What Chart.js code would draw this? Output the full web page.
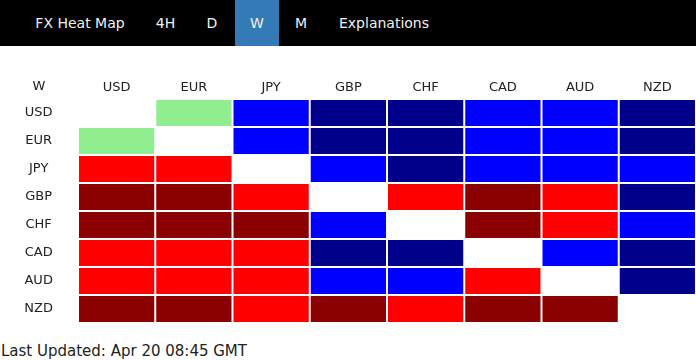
<!DOCTYPE html>
<html>
<head>
<meta charset="utf-8">
<title>FX Heat Map</title>
<script src="https://cdn.jsdelivr.net/npm/chart.js@4.4.1/dist/chart.umd.min.js"></script>
<style>
    html, body { margin: 0; padding: 0; background: #fff; }
    body { width: 696px; height: 360px; position: relative; overflow: hidden;
           font-family: "DejaVu Sans", Verdana, sans-serif; color: #222; }
    #menu { position: absolute; left: 0; top: 0; width: 696px; height: 46px; background: #000; }
    #menu span { position: absolute; top: 0; height: 46px; line-height: 46px;
                 font-size: 14px; color: #f2f2f2; text-align: center; }
    #menu span.active { background: #337ab7; }
    #chart-box { position: absolute; left: 0; top: 46px; width: 696px; height: 277px; }
    #updated { position: absolute; left: 1px; top: 342px; font-size: 15px; line-height: 18px; color: #222; }
</style>
</head>
<body>
<div id="menu">
    <span style="left:20px;width:120px">FX Heat Map</span>
    <span style="left:140px;width:51px">4H</span>
    <span style="left:191px;width:42px">D</span>
    <span class="active" style="left:235px;width:44px">W</span>
    <span style="left:280px;width:42px">M</span>
    <span style="left:323px;width:122px">Explanations</span>
</div>
<div id="chart-box"><canvas id="heatmap"></canvas></div>
<div id="updated">Last Updated: Apr 20 08:45 GMT</div>

<script>
// Weekly strength of row currency vs column currency
// 2 = strong up, 1 = up, 0 = flat, -1 = down, -2 = strong down, null = same pair
const timeframe = 'W';
const currencies = ['USD', 'EUR', 'JPY', 'GBP', 'CHF', 'CAD', 'AUD', 'NZD'];

const usdRow = [null, 0, 1, 2, 2, 1, 1, 2];
const eurRow = [0, null, 1, 2, 2, 1, 1, 2];
const jpyRow = [-1, -1, null, 1, 2, 1, 1, 1];
const gbpRow = [-2, -2, -1, null, -1, -2, -1, 2];
const chfRow = [-2, -2, -2, 1, null, -2, -1, 1];
const cadRow = [-1, -1, -1, 2, 2, null, 1, 2];
const audRow = [-1, -1, -1, 1, 1, -1, null, 2];
const nzdRow = [-2, -2, -1, -2, -1, -2, -2, null];

const rows = [usdRow, eurRow, jpyRow, gbpRow, chfRow, cadRow, audRow, nzdRow];

const levelColors = {
    '2': '#00008b',
    '1': '#0000ff',
    '0': '#90ee90',
    '-1': '#ff0000',
    '-2': '#8b0000'
};

const labelFont = { family: 'DejaVu Sans', size: 13 };

// one floating-bar dataset per row, each cell spans [row, row + 1]
const datasets = rows.map((row, i) => ({
    label: currencies[i],
    data: row.map(v => v === null ? null : [i, i + 1]),
    backgroundColor: row.map(v => v === null ? 'rgba(0,0,0,0)' : levelColors[String(v)]),
    borderColor: '#ffffff',
    borderWidth: 1,
    borderSkipped: false,
    inflateAmount: 0,
    categoryPercentage: 1,
    barPercentage: 1,
    grouped: false
}));

// corner label above the row names
const cornerLabel = {
    id: 'cornerLabel',
    afterDraw(chart) {
        const ctx = chart.ctx;
        const y = chart.scales.y;
        ctx.save();
        ctx.font = labelFont.size + 'px "DejaVu Sans"';
        ctx.fillStyle = '#222';
        ctx.textAlign = 'center';
        ctx.textBaseline = 'middle';
        ctx.fillText(timeframe, y.left + y.width / 2, chart.chartArea.top - 12);
        ctx.restore();
    }
};

const heatmap = new Chart(document.getElementById('heatmap').getContext('2d'), {
    type: 'bar',
    data: {
        labels: currencies,
        datasets: datasets
    },
    options: {
        responsive: true,
        maintainAspectRatio: false,
        animation: false,
        layout: { padding: 0 },
        plugins: {
            legend: { display: false },
            tooltip: { enabled: false }
        },
        scales: {
            x: {
                position: 'top',
                grid: { display: false, drawTicks: false },
                border: { display: false },
                ticks: {
                    color: '#222',
                    font: labelFont,
                    padding: 4,
                    maxRotation: 0
                },
                afterFit(scale) { scale.height = 53; }
            },
            y: {
                type: 'linear',
                min: 0,
                max: 8,
                reverse: true,
                grid: { display: false, drawTicks: false },
                border: { display: false },
                afterBuildTicks(scale) {
                    scale.ticks = currencies.map((c, i) => ({ value: i + 0.5 }));
                },
                ticks: {
                    color: '#222',
                    font: labelFont,
                    crossAlign: 'center',
                    padding: 25,
                    callback: v => currencies[Math.floor(v)]
                },
                afterFit(scale) {
                    scale.width = 78;
                    scale.paddingTop = 0;
                    scale.paddingBottom = 0;
                }
            }
        }
    },
    plugins: [cornerLabel]
});
</script>
</body>
</html>
